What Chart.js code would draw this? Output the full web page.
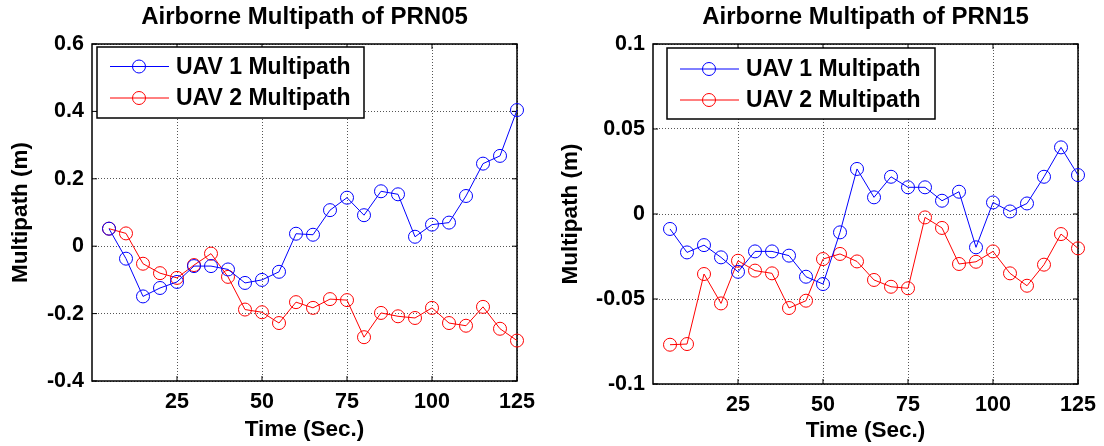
<!DOCTYPE html>
<html>
<head>
<meta charset="utf-8">
<script src="https://cdn.jsdelivr.net/npm/chart.js@4/dist/chart.umd.min.js"></script>
<style>
  body { margin: 0; background: #fff; }
  .wrap { position: absolute; top: 0; width: 552px; height: 446px; }
</style>
</head>
<body>
<div class="wrap" style="left:0"><canvas id="prn05" width="552" height="446"></canvas></div>
<div class="wrap" style="left:552px"><canvas id="prn15" width="552" height="446"></canvas></div>
<script>
// time axis (seconds)
const timeSec = [5, 10, 15, 20, 25, 30, 35, 40, 45, 50, 55, 60, 65, 70, 75, 80, 85, 90, 95, 100, 105, 110, 115, 120, 125];

// PRN05 multipath (m)
const prn05Uav1 = [0.052, -0.037, -0.149, -0.124, -0.106, -0.059, -0.059, -0.069, -0.109, -0.100, -0.076, 0.037, 0.034,
                   0.107, 0.144, 0.092, 0.163, 0.154, 0.028, 0.064, 0.070, 0.149, 0.245, 0.268, 0.404];
const prn05Uav2 = [0.052, 0.038, -0.052, -0.080, -0.094, -0.056, -0.022, -0.091, -0.188, -0.196, -0.228, -0.166, -0.183,
                   -0.157, -0.160, -0.270, -0.198, -0.208, -0.213, -0.183, -0.228, -0.236, -0.180, -0.245, -0.280];

// PRN15 multipath (m)
const prn15Uav1 = [-0.0088, -0.0226, -0.0183, -0.0255, -0.0340, -0.0220, -0.0220, -0.0245, -0.0369, -0.0412, -0.0108,
                   0.0265, 0.0098, 0.0219, 0.0157, 0.0157, 0.0078, 0.0131, -0.0196, 0.0068, 0.0015, 0.0062, 0.0219, 0.0392, 0.0229];
const prn15Uav2 = [-0.0769, -0.0765, -0.0353, -0.0526, -0.0275, -0.0333, -0.0349, -0.0553, -0.0510, -0.0265, -0.0235,
                   -0.0279, -0.0388, -0.0428, -0.0437, -0.0020, -0.0082, -0.0294, -0.0281, -0.0220, -0.0349, -0.0422,
                   -0.0298, -0.0118, -0.0202];

const xTicks = [25, 50, 75, 100, 125];
const prn05YTicks = [-0.4, -0.2, 0, 0.2, 0.4, 0.6];
const prn15YTicks = [-0.1, -0.05, 0, 0.05, 0.1];

const FONT = '"Liberation Sans", Arial, Helvetica, sans-serif';

// MATLAB style box round the axes, with small inward ticks
const framePlugin = {
    id: 'frame',
    beforeDatasetsDraw(chart) {
        const ctx = chart.ctx, a = chart.chartArea;
        const xs = chart.scales.x, ys = chart.scales.y;
        ctx.save();
        ctx.strokeStyle = '#000';
        ctx.lineWidth = 1.5;
        ctx.strokeRect(a.left, a.top, a.right - a.left, a.bottom - a.top);
        ctx.lineWidth = 1;
        ctx.beginPath();
        xs.ticks.forEach(t => {
            const px = xs.getPixelForValue(t.value);
            ctx.moveTo(px, a.bottom); ctx.lineTo(px, a.bottom - 5);
            ctx.moveTo(px, a.top); ctx.lineTo(px, a.top + 5);
        });
        ys.ticks.forEach(t => {
            const py = ys.getPixelForValue(t.value);
            ctx.moveTo(a.left, py); ctx.lineTo(a.left + 5, py);
            ctx.moveTo(a.right, py); ctx.lineTo(a.right - 5, py);
        });
        ctx.stroke();
        ctx.restore();
    }
};

// legend in a box inside the plot, line + circle sample
const boxLegend = {
    id: 'boxLegend',
    afterDatasetsDraw(chart, args, opts) {
        const ctx = chart.ctx, a = chart.chartArea;
        const x0 = a.left + opts.dx, y0 = a.top + opts.dy;
        ctx.save();
        ctx.fillStyle = '#fff';
        ctx.fillRect(x0, y0, opts.w, opts.h);
        ctx.strokeStyle = '#000';
        ctx.lineWidth = 1.5;
        ctx.strokeRect(x0, y0, opts.w, opts.h);
        chart.data.datasets.forEach((ds, i) => {
            const y = y0 + opts.rows[i];
            ctx.strokeStyle = ds.borderColor;
            ctx.lineWidth = 1;
            ctx.beginPath();
            ctx.moveTo(x0 + 13, y); ctx.lineTo(x0 + 72, y);
            ctx.stroke();
            ctx.beginPath();
            ctx.arc(x0 + 42, y, 6.5, 0, Math.PI * 2);
            ctx.stroke();
            ctx.fillStyle = '#000';
            ctx.font = 'bold 23px ' + FONT;
            ctx.textBaseline = 'middle';
            ctx.fillText(ds.label, x0 + 79, y + 1);
        });
        ctx.restore();
    }
};

function makeChart(id, title, uav1, uav2, yTicks, yMin, yMax, o) {
    const pts = arr => timeSec.map((t, i) => ({ x: t, y: arr[i] }));
    const line = (label, color, arr) => ({
        label: label,
        data: pts(arr),
        borderColor: color,
        borderWidth: 1,
        pointRadius: 6.5,
        pointBorderWidth: 1,
        pointBorderColor: color,
        pointBackgroundColor: 'rgba(0,0,0,0)',
        tension: 0,
        clip: false
    });
    return new Chart(document.getElementById(id), {
        type: 'line',
        data: {
            datasets: [
                line('UAV 1 Multipath', '#0000ff', uav1),
                line('UAV 2 Multipath', '#ff0000', uav2)
            ]
        },
        options: {
            responsive: false,
            animation: false,
            devicePixelRatio: 1,
            events: [],
            layout: { padding: { left: 0, right: o.padRight, top: 0, bottom: 0 } },
            plugins: {
                legend: { display: false },
                tooltip: { enabled: false },
                title: {
                    display: true,
                    fullSize: false,
                    text: title,
                    color: '#000',
                    font: { family: FONT, size: 24, weight: 'bold', lineHeight: 1.2 },
                    padding: { top: 3, bottom: 12.2 }
                },
                boxLegend: o.legend
            },
            scales: {
                x: {
                    type: 'linear',
                    min: 0,
                    max: 125,
                    afterBuildTicks: s => { s.ticks = xTicks.map(v => ({ value: v })); },
                    afterFit: s => { s.height = o.xHeight; },
                    grid: { color: '#555', lineWidth: 1, drawTicks: false },
                    border: { display: false, dash: [1, 2] },
                    ticks: {
                        color: '#000',
                        padding: 8,
                        maxRotation: 0,
                        font: { family: FONT, size: 21.5, weight: 'bold' }
                    },
                    title: {
                        display: true,
                        text: 'Time (Sec.)',
                        color: '#000',
                        font: { family: FONT, size: 22.5, weight: 'bold', lineHeight: 1.2 },
                        padding: { top: 0, bottom: o.xTitlePad }
                    }
                },
                y: {
                    type: 'linear',
                    min: yMin,
                    max: yMax,
                    afterBuildTicks: s => { s.ticks = yTicks.map(v => ({ value: v })); },
                    afterFit: s => { s.width = o.yWidth; },
                    grid: { color: '#555', lineWidth: 1, drawTicks: false },
                    border: { display: false, dash: [1, 2] },
                    ticks: {
                        color: '#000',
                        padding: 8,
                        font: { family: FONT, size: 21.5, weight: 'bold' },
                        callback: v => String(+Number(v).toFixed(3))
                    },
                    title: {
                        display: true,
                        text: 'Multipath (m)',
                        color: '#000',
                        font: { family: FONT, size: 22.5, weight: 'bold', lineHeight: 1.2 },
                        padding: { top: o.yTitlePad, bottom: 0 }
                    }
                }
            }
        },
        plugins: [framePlugin, boxLegend]
    });
}

makeChart('prn05', 'Airborne Multipath of PRN05', prn05Uav1, prn05Uav2, prn05YTicks, -0.4, 0.6, {
    padRight: 35, yWidth: 92, xHeight: 65, xTitlePad: 3, yTitlePad: 7.5,
    legend: { dx: 5, dy: 3, w: 267, h: 71, rows: [19.5, 51] }
});

makeChart('prn15', 'Airborne Multipath of PRN15', prn15Uav1, prn15Uav2, prn15YTicks, -0.1, 0.1, {
    padRight: 26, yWidth: 101, xHeight: 62, xTitlePad: 2, yTitlePad: 5.5,
    legend: { dx: 14, dy: 4, w: 268, h: 71, rows: [21, 52] }
});
</script>
</body>
</html>
